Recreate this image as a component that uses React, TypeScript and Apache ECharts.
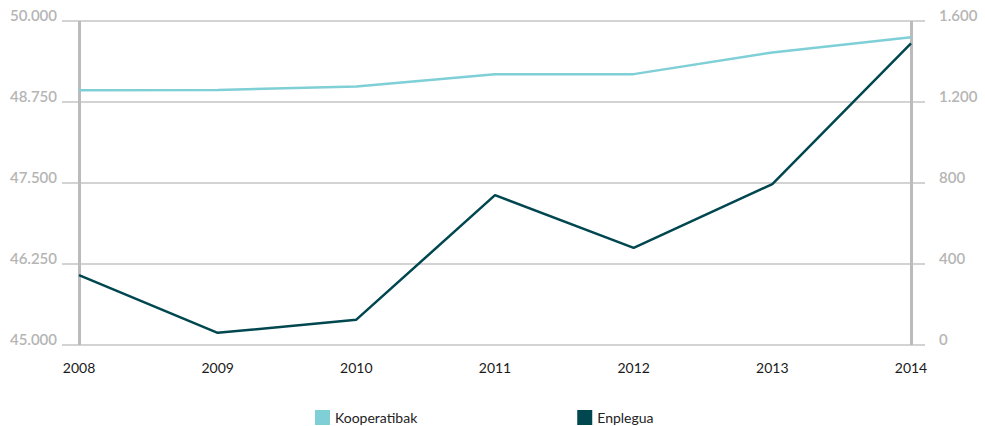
import React, { useEffect, useRef } from "react";
import * as echarts from "echarts";

const years = [2008, 2009, 2010, 2011, 2012, 2013, 2014];
const kooperatibak = [48930, 48935, 48990, 49180, 49180, 49515, 49750];
const enplegua = [345, 60, 125, 740, 480, 795, 1490];
const leftTicks = { min: 45000, max: 50000, interval: 1250 };
const rightTicks = { min: 0, max: 1600, interval: 400 };

const fmt = (v: number) => String(v).replace(/\B(?=(\d{3})+(?!\d))/g, ".");

export default function App() {
  const ref = useRef<HTMLDivElement>(null);
  useEffect(() => {
    if (!ref.current) return;
    const chart = echarts.init(ref.current, undefined, { renderer: "svg" });
    const labelStyle = {
      color: "#b5b5b5",
      fontFamily: "Lato",
      fontWeight: 600,
      fontSize: 15,
      verticalAlign: "bottom" as const,
      lineHeight: 12,
    };
    chart.setOption({
      animation: false,
      backgroundColor: "#ffffff",
      grid: { left: 62, right: 60, top: 21, bottom: 81, containLabel: false },
      legend: {
        top: 410,
        left: 315,
        padding: 0,
        itemWidth: 15,
        itemHeight: 15,
        itemGap: 160,
        icon: "rect",
        textStyle: { fontFamily: "Lato", fontSize: 14, color: "#222" },
        data: ["Kooperatibak", "Enplegua"],
      },
      xAxis: {
        type: "value",
        min: 2007.8774,
        max: 2014.101,
        axisLine: { show: false },
        axisTick: { show: false },
        splitLine: { show: false },
        axisLabel: {
          customValues: years,
          formatter: (v: number) => String(v),
          color: "#1a1a1a",
          fontFamily: "Lato",
          fontSize: 14,
          margin: 15,
        },
      },
      yAxis: [
        {
          type: "value",
          ...leftTicks,
          position: "left",
          axisLine: { show: false },
          axisTick: { show: false },
          splitLine: { show: true, lineStyle: { color: "#c4c4c4", width: 1.5 } },
          axisLabel: { ...labelStyle, margin: 5, formatter: (v: number) => fmt(v) },
        },
        {
          type: "value",
          ...rightTicks,
          position: "right",
          axisLine: { show: false },
          axisTick: { show: false },
          splitLine: { show: false },
          axisLabel: { ...labelStyle, margin: 14, formatter: (v: number) => fmt(v) },
        },
      ],
      series: [
        {
          name: "Kooperatibak",
          type: "line",
          yAxisIndex: 0,
          data: years.map((y, i) => [y, kooperatibak[i]]),
          showSymbol: false,
          symbol: "none",
          lineStyle: { color: "#7fcfd6", width: 2.5 },
          itemStyle: { color: "#7fcfd6" },
          z: 3,
          markLine: {
            silent: true,
            symbol: "none",
            label: { show: false },
            lineStyle: { color: "#bbbbbb", width: 3, type: "solid" },
            data: [{ xAxis: years[0] }, { xAxis: years[years.length - 1] }],
            z: 1,
          },
        },
        {
          name: "Enplegua",
          type: "line",
          yAxisIndex: 1,
          data: years.map((y, i) => [y, enplegua[i]]),
          showSymbol: false,
          symbol: "none",
          lineStyle: { color: "#004750", width: 2.5 },
          itemStyle: { color: "#004750" },
          z: 4,
        },
      ],
    });
    return () => chart.dispose();
  }, []);
  return (
    <div
      ref={ref}
      style={{ position: "fixed", left: 0, top: 0, width: 985, height: 426 }}
    />
  );
}
